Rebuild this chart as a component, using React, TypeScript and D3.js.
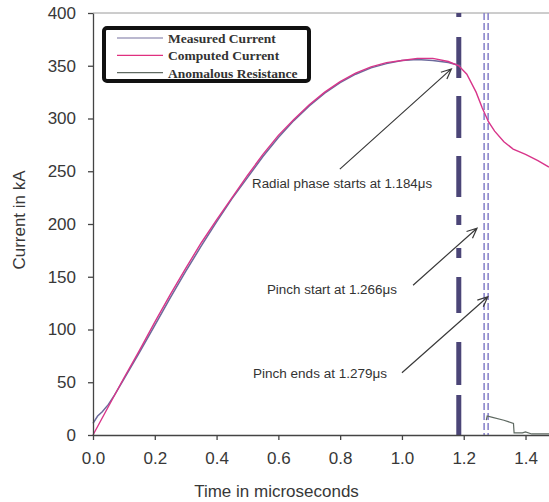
import React, { useEffect, useRef } from 'react';
import { select, axisBottom, axisLeft, scaleLinear, line } from 'd3';

// computed current (kA) vs time (microseconds)
const timeComputed = [0, 0.05, 0.1, 0.15, 0.2, 0.25, 0.3, 0.35, 0.4, 0.45, 0.5, 0.55, 0.6, 0.65, 0.7, 0.75, 0.8, 0.85, 0.9, 0.95, 1.0, 1.05, 1.1, 1.15, 1.184, 1.21, 1.24, 1.26, 1.28, 1.3, 1.33, 1.36, 1.4, 1.44, 1.476];
const computedCurrent = [0, 27, 54, 80, 107, 133, 158, 182, 204, 225, 246, 266, 284, 299, 313, 325, 335, 343, 349, 353, 355, 357, 357, 354, 350, 342, 325, 310, 297, 288, 278, 271, 266, 260, 254];

// measured current
const timeMeasured = [0, 0.015, 0.03, 0.05, 0.07, 0.1, 0.15, 0.2, 0.25, 0.3, 0.35, 0.4, 0.45, 0.5, 0.55, 0.6, 0.65, 0.7, 0.75, 0.8, 0.85, 0.9, 0.95, 1.0, 1.05, 1.1, 1.15, 1.19];
const measuredCurrent = [11, 18, 22, 29, 38, 53, 78, 104, 130, 155, 179, 202, 224, 244, 264, 282, 298, 312, 324, 334, 342, 348, 352, 355, 356, 355, 353, 350];

// anomalous resistance (plotted on same axis)
const timeAnomalous = [1.273, 1.276, 1.29, 1.33, 1.361, 1.363, 1.39, 1.4, 1.42, 1.476];
const anomalousResistance = [14, 18, 17, 14, 11, 2, 2, 3, 1, 1];

// event markers
const radialStart = 1.184;
const pinchStart = 1.266;
const pinchEnd = 1.279;

const xTicks = [0, 0.2, 0.4, 0.6, 0.8, 1.0, 1.2, 1.4];
const yTicks = [0, 50, 100, 150, 200, 250, 300, 350, 400];

// annotations: text anchor (t, kA), arrow tail and tip (t, kA)
const annotations = [
  { text: 'Radial phase starts at 1.184μs', tx: 0.515, ty: 234, len: 180, from: [0.799, 252], to: [1.16, 347] },
  { text: 'Pinch start at 1.266μs', tx: 0.563, ty: 134, len: 130, from: [1.036, 142], to: [1.243, 196] },
  { text: 'Pinch ends at 1.279μs', tx: 0.518, ty: 54, len: 134, from: [1.0, 59], to: [1.278, 131] },
];

const legendItems = [
  { name: 'Measured Current', color: '#77739f' },
  { name: 'Computed Current', color: '#e0307f' },
  { name: 'Anomalous Resistance', color: '#5f6a62' },
];

const App = () => {
  const svgRef = useRef(null);

  useEffect(() => {
    const svg = select(svgRef.current);
    svg.selectAll('*').remove();

    const left = 93;
    const right = 549;
    const top = 13;
    const bottom = 435;

    const x = scaleLinear().domain([0, 1.476]).range([left, right]);
    const y = scaleLinear().domain([0, 400]).range([bottom, top]);

    const font = 'Arial, "Liberation Sans", sans-serif';

    // top border
    svg.append('line')
      .attr('x1', left).attr('x2', right)
      .attr('y1', y(400)).attr('y2', y(400))
      .attr('stroke', '#9a9a9a').attr('stroke-width', 1);

    // event lines
    svg.append('line')
      .attr('x1', x(radialStart)).attr('x2', x(radialStart))
      .attr('y1', y(400)).attr('y2', y(0))
      .attr('stroke', '#4b4577').attr('stroke-width', 5)
      .attr('stroke-dasharray', '4,20,41,18,42,18,41,18,10,23,10,19,36,29,43,10,40');

    [pinchStart, pinchEnd].forEach((t) => {
      svg.append('line')
        .attr('x1', x(t)).attr('x2', x(t))
        .attr('y1', y(400)).attr('y2', y(0))
        .attr('stroke', '#8c86cc').attr('stroke-width', 1.6)
        .attr('stroke-dasharray', '7,3');
    });

    const path = line().x((d) => x(d[0])).y((d) => y(d[1]));

    svg.append('path')
      .datum(timeAnomalous.map((t, i) => [t, anomalousResistance[i]]))
      .attr('d', path)
      .attr('fill', 'none').attr('stroke', '#5f6a62').attr('stroke-width', 1.2);

    svg.append('path')
      .datum(timeMeasured.map((t, i) => [t, measuredCurrent[i]]))
      .attr('d', path)
      .attr('fill', 'none').attr('stroke', '#6c6a9c').attr('stroke-width', 1.5);

    svg.append('path')
      .datum(timeComputed.map((t, i) => [t, computedCurrent[i]]))
      .attr('d', path)
      .attr('fill', 'none').attr('stroke', '#d8358a').attr('stroke-width', 1.4);

    // axes
    const yAxis = svg.append('g')
      .attr('transform', `translate(${left},0)`)
      .call(axisLeft(y).tickValues(yTicks).tickSize(5).tickSizeOuter(0).tickPadding(12).tickFormat((d) => `${d}`));
    const xAxis = svg.append('g')
      .attr('transform', `translate(0,${bottom})`)
      .call(axisBottom(x).tickValues(xTicks).tickSize(5).tickSizeOuter(0).tickPadding(12).tickFormat((d) => d.toFixed(1)));

    [xAxis, yAxis].forEach((g) => {
      g.select('.domain').attr('stroke', '#444').attr('stroke-width', 1.3);
      g.selectAll('.tick line').attr('stroke', '#444').attr('stroke-width', 1.3);
      g.selectAll('.tick text').attr('fill', '#383838').style('font-size', '17px').style('font-family', font);
    });

    svg.append('text')
      .attr('x', (left + 550) / 2 - 45).attr('y', 497)
      .attr('text-anchor', 'middle')
      .attr('fill', '#383838').style('font-size', '17px').style('font-family', font)
      .text('Time in microseconds');

    svg.append('text')
      .attr('transform', `translate(25,${(top + bottom) / 2 - 4}) rotate(-90)`)
      .attr('text-anchor', 'middle')
      .attr('fill', '#383838').style('font-size', '17px').style('font-family', font)
      .text('Current in kA');

    // annotations
    annotations.forEach((a) => {
      svg.append('text')
        .attr('x', x(a.tx)).attr('y', y(a.ty))
        .attr('textLength', a.len).attr('lengthAdjust', 'spacingAndGlyphs')
        .attr('fill', '#333').style('font-size', '12.5px').style('font-family', font)
        .text(a.text);

      const x1 = x(a.from[0]);
      const y1 = y(a.from[1]);
      const x2 = x(a.to[0]);
      const y2 = y(a.to[1]);
      const ang = Math.atan2(y2 - y1, x2 - x1);
      const hl = 11;
      const spread = 0.42;
      svg.append('path')
        .attr('d', `M${x1},${y1}L${x2},${y2}M${x2 - hl * Math.cos(ang - spread)},${y2 - hl * Math.sin(ang - spread)}L${x2},${y2}L${x2 - hl * Math.cos(ang + spread)},${y2 - hl * Math.sin(ang + spread)}`)
        .attr('fill', 'none').attr('stroke', '#3a3a3a').attr('stroke-width', 1.2);
    });

    // legend
    const legend = svg.append('g');
    legend.append('rect')
      .attr('x', 104).attr('y', 28).attr('width', 205).attr('height', 53).attr('rx', 3)
      .attr('fill', '#fff').attr('stroke', '#111').attr('stroke-width', 4);
    legendItems.forEach((item, i) => {
      const ly = 38 + i * 17.3;
      legend.append('line')
        .attr('x1', 117).attr('x2', 163).attr('y1', ly).attr('y2', ly)
        .attr('stroke', item.color).attr('stroke-width', 1.2);
      legend.append('text')
        .attr('x', 168).attr('y', ly + 5)
        .attr('fill', '#333').style('font-size', '13.5px').style('font-weight', 'bold')
        .style('font-family', '"Liberation Serif", "Times New Roman", serif')
        .text(item.name);
    });
  }, []);

  return (
    <div style={{ position: 'absolute', left: 0, top: 0 }}>
      <svg ref={svgRef} width={549} height={502} style={{ display: 'block' }}></svg>
    </div>
  );
};

export default App;
